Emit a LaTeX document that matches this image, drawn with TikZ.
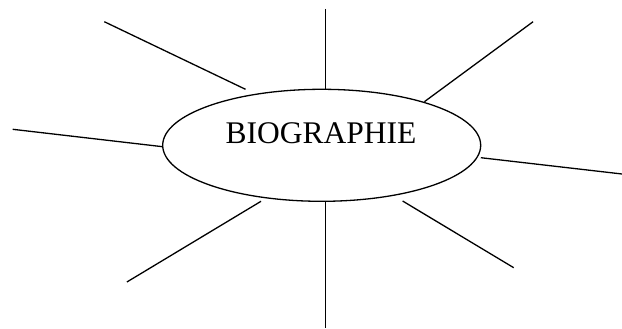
\documentclass[tikz,border=0pt]{standalone}
\usepackage{fontspec}
\setmainfont{Liberation Serif}
\usetikzlibrary{shapes.geometric}
\begin{document}
\begin{tikzpicture}[x=1pt,y=-1pt,
  ray/.style={line width=1.3pt},
  bubble/.style={draw,ellipse,line width=1.3pt,minimum width=318pt,minimum height=112pt,inner sep=0pt}]
\useasboundingbox (0,0) rectangle (622,329);
\node[bubble] (e) at (321.7,145.3) {};
\node[inner sep=0pt,font=\fontsize{31.5}{36}\selectfont] (t) at (321,133.5) {BIOGRAPHIE};
\coordinate (a1) at (104.3,21.7);  \coordinate (a2) at (245.5,89.3);
\coordinate (b1) at (325.3,9);     \coordinate (b2) at (325.3,89.3);
\coordinate (c1) at (533.1,21.7);  \coordinate (c2) at (424.4,101.7);
\coordinate (d1) at (12.7,129.3);  \coordinate (d2) at (162.6,146.7);
\coordinate (f1) at (480.8,157.7); \coordinate (f2) at (622,174);
\coordinate (g1) at (261,201.3);   \coordinate (g2) at (126.9,282);
\coordinate (h1) at (325.3,201.3); \coordinate (h2) at (325.3,328);
\coordinate (k1) at (402.6,201);   \coordinate (k2) at (513.7,267.7);
\draw[ray] (a1) -- (a2);
\draw[ray] (b1) -- (b2);
\draw[ray] (c1) -- (c2);
\draw[ray] (d1) -- (d2);
\draw[ray] (f1) -- (f2);
\draw[ray] (g1) -- (g2);
\draw[ray] (h1) -- (h2);
\draw[ray] (k1) -- (k2);
\end{tikzpicture}
\end{document}
